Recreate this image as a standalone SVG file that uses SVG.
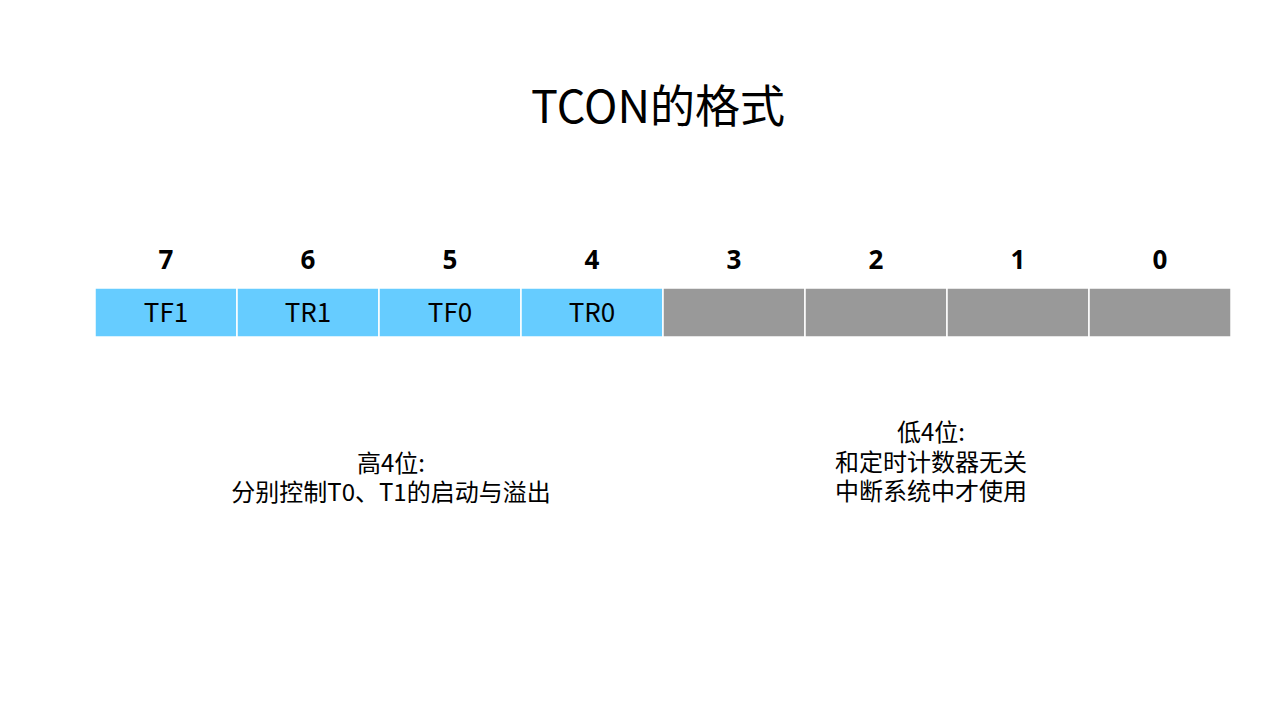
<svg xmlns="http://www.w3.org/2000/svg" width="1280" height="720" viewBox="0 0 1280 720">
<style>
text{font-family:"Noto Sans CJK SC","Noto Sans",sans-serif;fill:#000;text-anchor:middle}
.title{font-size:45px}
.num{font-size:26px;font-weight:bold;font-family:"Open Sans","Noto Sans",sans-serif}
.lbl{font-size:26px;font-family:"Noto Sans CJK SC","Noto Sans",sans-serif}
.note{font-size:24px}
.hi{fill:#66CCFF;stroke:#fff;stroke-width:1.5}
.lo{fill:#999999;stroke:#fff;stroke-width:1.5}
</style>
<rect width="1280" height="720" fill="#fff"/>
<text class="title" x="658" y="123">TCON的格式</text>
<g id="bits">
<text class="num" x="166" y="269">7</text>
<text class="num" x="308" y="269">6</text>
<text class="num" x="450" y="269">5</text>
<text class="num" x="592" y="269">4</text>
<text class="num" x="734" y="269">3</text>
<text class="num" x="876" y="269">2</text>
<text class="num" x="1018" y="269">1</text>
<text class="num" x="1160" y="269">0</text>
</g>
<g id="b7"><rect class="hi" x="95" y="288" width="142" height="49"/><text class="lbl" x="166" y="322">TF1</text></g>
<g id="b6"><rect class="hi" x="237" y="288" width="142" height="49"/><text class="lbl" x="308" y="322">TR1</text></g>
<g id="b5"><rect class="hi" x="379" y="288" width="142" height="49"/><text class="lbl" x="450" y="322">TF0</text></g>
<g id="b4"><rect class="hi" x="521" y="288" width="142" height="49"/><text class="lbl" x="592" y="322">TR0</text></g>
<g id="b3"><rect class="lo" x="663" y="288" width="142" height="49"/></g>
<g id="b2"><rect class="lo" x="805" y="288" width="142" height="49"/></g>
<g id="b1"><rect class="lo" x="947" y="288" width="142" height="49"/></g>
<g id="b0"><rect class="lo" x="1089" y="288" width="142" height="49"/></g>
<g id="connectors"></g>
<g id="high-note">
<text class="note" x="391" y="472">高4位:</text>
<text class="note" x="391" y="501">分别控制T0、T1的启动与溢出</text>
</g>
<g id="low-note">
<text class="note" x="931" y="441">低4位:</text>
<text class="note" x="931" y="471">和定时计数器无关</text>
<text class="note" x="931" y="500">中断系统中才使用</text>
</g>
</svg>
